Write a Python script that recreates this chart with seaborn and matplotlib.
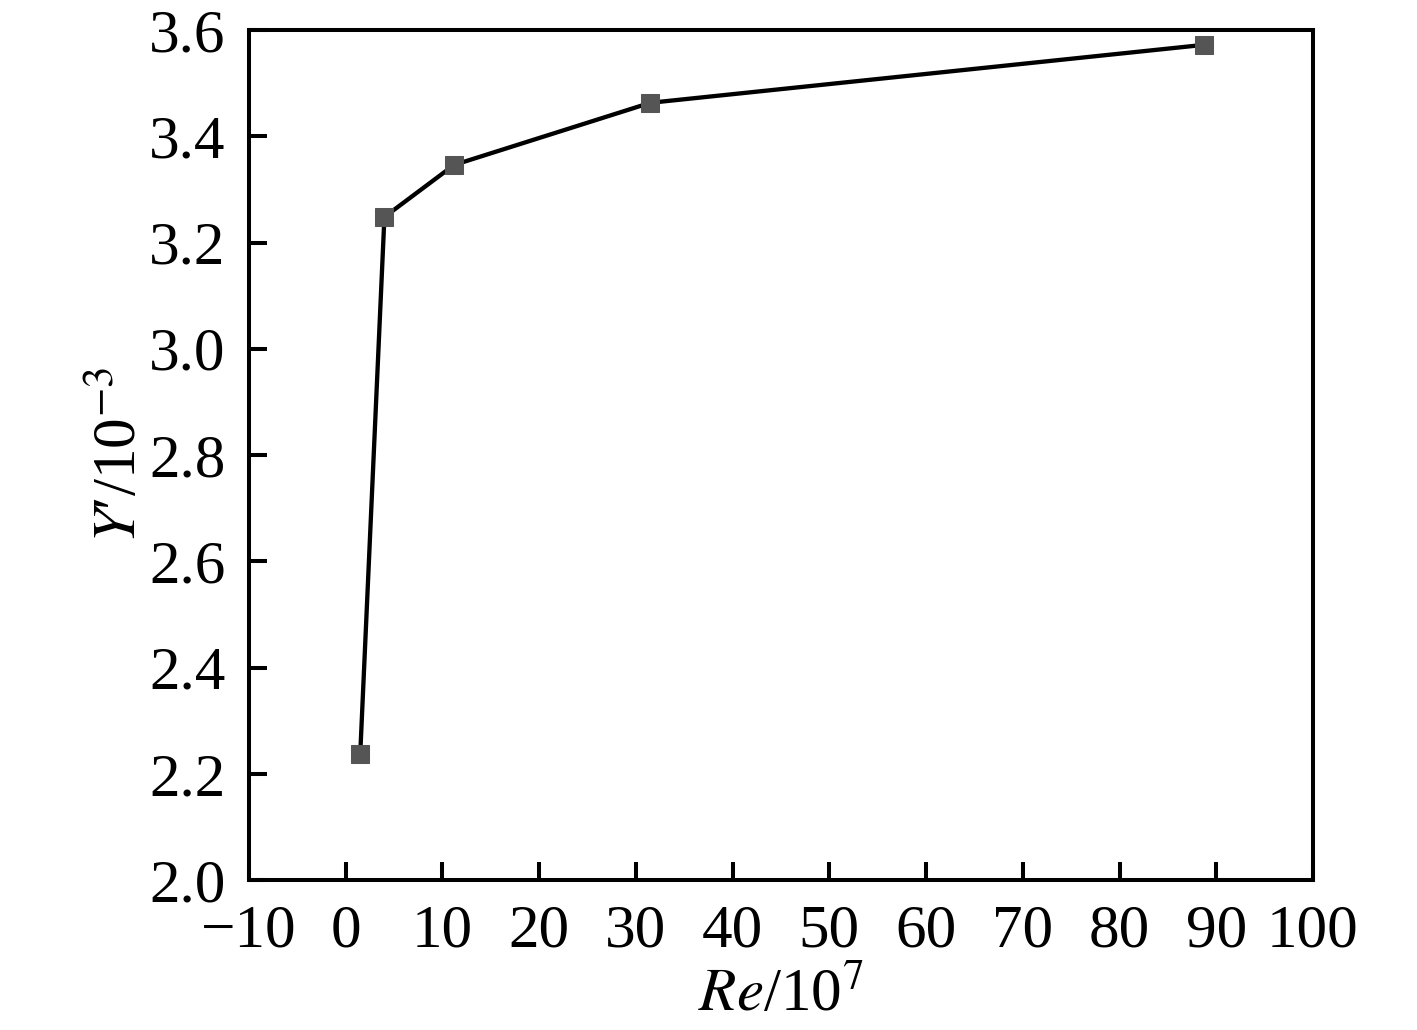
import matplotlib
matplotlib.use("Agg")
import matplotlib.pyplot as plt
import seaborn as sns
import pandas as pd

re_vals = [1.5, 4.0, 11.2, 31.5, 88.7]
y_vals = [2.237, 3.248, 3.346, 3.463, 3.572]
x_ticks = [-10, 0, 10, 20, 30, 40, 50, 60, 70, 80, 90, 100]
y_ticks = [2.0, 2.2, 2.4, 2.6, 2.8, 3.0, 3.2, 3.4, 3.6]

sns.set_style("ticks")
plt.rcParams['font.family'] = ['Liberation Serif', 'DejaVu Serif']
plt.rcParams['mathtext.fontset'] = 'stix'
plt.rcParams['text.color'] = 'black'
plt.rcParams['axes.labelcolor'] = 'black'

df = pd.DataFrame({"Re": re_vals, "Y": y_vals})

fig = plt.figure(figsize=(14.17, 10.3), dpi=100)
ax = fig.add_axes([249 / 1417, 1 - 880 / 1030, (1313 - 249) / 1417, (880 - 30) / 1030])

sns.lineplot(data=df, x="Re", y="Y", ax=ax, color="black", linewidth=3.1,
             marker="s", markersize=13, markerfacecolor="#555555",
             markeredgecolor="#555555")

ax.set_xlim(-10, 100)
ax.set_ylim(2.0, 3.6)
ax.set_xticks(x_ticks)
ax.set_yticks(y_ticks)
ax.set_xticklabels(["\u221210" if t < 0 else str(t) for t in x_ticks])
ax.set_yticklabels([f"{t:.1f}" for t in y_ticks])
ax.tick_params(direction="in", length=13, width=2.9, labelsize=44, pad=17, colors="black")
for s in ax.spines.values():
    s.set_linewidth(2.9)
    s.set_color("black")

ax.set_xlabel("$\\mathit{Re}$/10$^{7}$", fontsize=44, labelpad=6)
ax.set_ylabel("$\\mathit{Y}$\u2032/10$^{-3}$", fontsize=44, labelpad=0)

fig.savefig("out.png", dpi=100)
